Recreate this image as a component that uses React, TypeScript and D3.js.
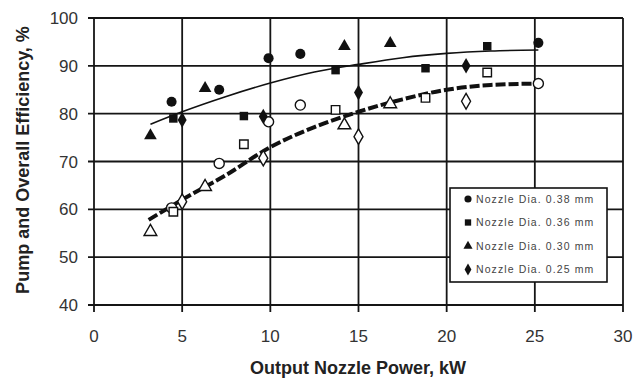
import * as d3 from 'd3';

// Output nozzle power (kW) and efficiencies (%) per nozzle diameter.
const power38 = [4.4, 7.1, 9.9, 11.7, 25.2];
const pump38 = [82.5, 85.0, 91.6, 92.5, 94.8];
const overall38 = [60.3, 69.6, 78.3, 81.8, 86.3];

const power36 = [4.5, 8.5, 13.7, 18.8, 22.3];
const pump36 = [79.0, 79.5, 89.1, 89.5, 94.1];
const overall36 = [59.5, 73.6, 80.8, 83.3, 88.6];

const power30 = [3.2, 6.3, 14.2, 16.8];
const pump30 = [75.4, 85.3, 94.1, 94.7];
const overall30 = [55.3, 64.7, 77.6, 82.0];

const power25 = [5.0, 9.6, 15.0, 21.1];
const pump25 = [78.7, 79.4, 84.4, 90.0];
const overall25 = [61.6, 70.7, 75.2, 82.6];

// Trend curves as drawn on the chart
const pumpTrendX = [3.2, 5, 7.5, 10, 12.5, 15, 17.5, 20, 22.5, 25.2];
const pumpTrendY = [77.8, 80.4, 83.6, 86.4, 88.7, 90.3, 91.7, 92.6, 93.1, 93.3];
const overallTrendX = [3.1, 5, 7.5, 10, 12.5, 15, 17.5, 20, 22.5, 25.2];
const overallTrendY = [57.8, 62.0, 67.2, 73.0, 77.2, 80.4, 83.0, 85.0, 86.0, 86.3];

const xTicks = [0, 5, 10, 15, 20, 25, 30];
const yTicks = [40, 50, 60, 70, 80, 90, 100];
const legendLabels = ['Nozzle Dia. 0.38 mm', 'Nozzle Dia. 0.36 mm', 'Nozzle Dia. 0.30 mm', 'Nozzle Dia. 0.25 mm'];

const W = 634;
const H = 383;

export default function App() {
  const x = d3.scaleLinear().domain([0, 30]).range([94, 623]);
  const y = d3.scaleLinear().domain([40, 100]).range([305, 18]);

  const series = [
    { power: power38, pump: pump38, overall: overall38, shape: d3.symbolCircle, size: 80, legendSize: 40 },
    { power: power36, pump: pump36, overall: overall36, shape: d3.symbolSquare, size: 72, legendSize: 40 },
    { power: power30, pump: pump30, overall: overall30, shape: d3.symbolTriangle, size: 70, legendSize: 36 },
    { power: power25, pump: pump25, overall: overall25, shape: d3.symbolDiamond, size: 70, legendSize: 40 },
  ];

  const line = d3
    .line<[number, number]>()
    .x((d) => x(d[0]))
    .y((d) => y(d[1]))
    .curve(d3.curveMonotoneX);

  const pumpPath = line(pumpTrendX.map((v, i) => [v, pumpTrendY[i]])) ?? '';
  const overallPath = line(overallTrendX.map((v, i) => [v, overallTrendY[i]])) ?? '';

  const font = 'Liberation Sans, Arial, sans-serif';
  const grid = '#151515';

  return (
    <svg width={W} height={H} style={{ position: 'absolute', left: 0, top: 0, background: '#fff' }} fontFamily={font}>
      <rect width={W} height={H} fill="#fff" />

      {/* grid: horizontal every 10 %, vertical every 5 kW */}
      {yTicks.map((t) => (
        <line key={'h' + t} x1={x(0) - 6} x2={x(30)} y1={y(t)} y2={y(t)} stroke={grid} strokeWidth={1.8} />
      ))}
      {xTicks.map((t) => (
        <line key={'v' + t} x1={x(t)} x2={x(t)} y1={y(100)} y2={y(40) + 7} stroke={grid} strokeWidth={1.8} />
      ))}

      {yTicks.map((t) => (
        <text key={'yl' + t} x={78} y={y(t)} dy="0.36em" textAnchor="end" fontSize={17} fill="#333">
          {t}
        </text>
      ))}
      {xTicks.map((t) => (
        <text key={'xl' + t} x={x(t)} y={342} textAnchor="middle" fontSize={17} fill="#333">
          {t}
        </text>
      ))}

      <text x={358} y={374} textAnchor="middle" fontSize={18} fontWeight="bold" fill="#222">
        Output Nozzle Power, kW
      </text>
      <text
        transform={`translate(29,160) rotate(-90)`}
        textAnchor="middle"
        fontSize={18}
        fontWeight="bold"
        fill="#222"
      >
        Pump and Overall Efficiency, %
      </text>

      {/* trend lines */}
      <path d={pumpPath} fill="none" stroke="#111" strokeWidth={1.6} />
      <path d={overallPath} fill="none" stroke="#111" strokeWidth={4} strokeDasharray="10 3" />

      {/* markers: filled = pump efficiency, open = overall efficiency */}
      {series.map((s, si) => {
        const sym = d3.symbol().type(s.shape).size(s.size)() ?? '';
        return (
          <g key={'s' + si}>
            {s.power.map((p, i) => (
              <path key={'f' + i} d={sym} transform={`translate(${x(p)},${y(s.pump[i])})`} fill="#111" />
            ))}
            {s.power.map((p, i) => (
              <path
                key={'o' + i}
                d={sym}
                transform={`translate(${x(p)},${y(s.overall[i])})`}
                fill="#fff"
                stroke="#111"
                strokeWidth={1.4}
              />
            ))}
          </g>
        );
      })}

      {/* legend */}
      <rect x={450} y={188} width={157} height={94} fill="#fff" stroke="#111" strokeWidth={1.6} />
      {legendLabels.map((lab, i) => {
        const ly = 199 + i * 23.5;
        const sym = d3.symbol().type(series[i].shape).size(series[i].legendSize)() ?? '';
        return (
          <g key={'lg' + i}>
            <path d={sym} transform={`translate(468,${ly})`} fill="#111" />
            <text x={476} y={ly} dy="0.35em" fontSize={10.5} letterSpacing={1.1} fill="#444">
              {lab}
            </text>
          </g>
        );
      })}
    </svg>
  );
}
